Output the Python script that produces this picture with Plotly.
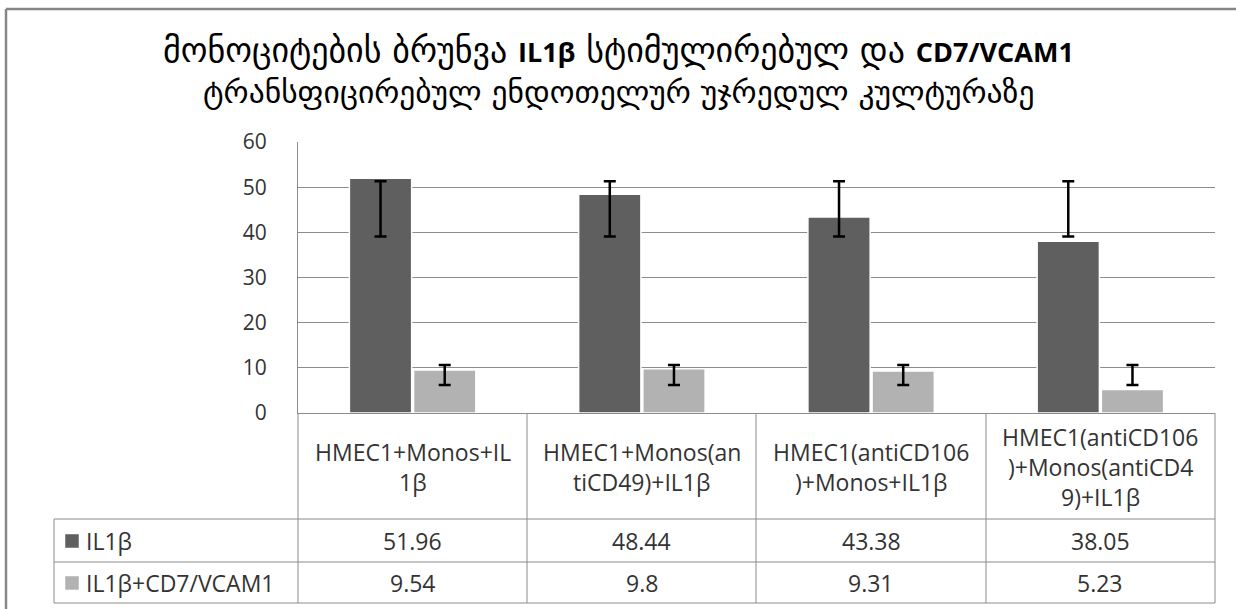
import plotly.graph_objects as go

# values as printed in the data table under the chart
categories = [
    "HMEC1+Monos+IL1β",
    "HMEC1+Monos(antiCD49)+IL1β",
    "HMEC1(antiCD106)+Monos+IL1β",
    "HMEC1(antiCD106)+Monos(antiCD49)+IL1β",
]
# header cells wrap exactly like the Excel table does
header_labels = [
    ["HMEC1+Monos+IL", "1β"],
    ["HMEC1+Monos(an", "tiCD49)+IL1β"],
    ["HMEC1(antiCD106", ")+Monos+IL1β"],
    ["HMEC1(antiCD106", ")+Monos(antiCD4", "9)+IL1β"],
]
series_names = ["IL1β", "IL1β+CD7/VCAM1"]
il1b = [51.96, 48.44, 43.38, 38.05]
il1b_vcam = [9.54, 9.8, 9.31, 5.23]

# the error bars in the picture sit at the same place for every group
il1b_err_lo = [39.1, 39.1, 39.1, 39.1]
il1b_err_hi = [51.3, 51.3, 51.3, 51.3]
vcam_err_lo = [6.2, 6.2, 6.2, 6.2]
vcam_err_hi = [10.6, 10.6, 10.6, 10.6]

LATIN = "<span style='font-family:Open Sans;font-size:27px'><b>{}</b></span>"
title_lines = [
    "მონოციტების ბრუნვა " + LATIN.format("IL1β") + " სტიმულირებულ და " + LATIN.format("CD7/VCAM1"),
    "ტრანსფიცირებულ ენდოთელურ უჯრედულ კულტურაზე",
]
title_sizes = [34, 31.5]

DARK = "#5f5f5f"
LIGHT = "#b2b2b2"
GRID = "#8c8c8c"
TEXT = "#333333"
FONT = "Open Sans, DejaVu Sans, sans-serif"
TITLE_FONT = "DejaVu Sans, Open Sans, sans-serif"

# plot area in pixels (figure is 1236x609)
W, H = 1236, 609
PL, PR, PT, PB = 298, 1215, 142, 413


def fx(p):
    return (p - PL) / (PR - PL)


def fy(p):
    return (PB - p) / (PB - PT)


fig = go.Figure()

for name, vals, color, grp in [(series_names[0], il1b, DARK, "a"),
                               (series_names[1], il1b_vcam, LIGHT, "b")]:
    fig.add_bar(x=categories, y=vals, name=name, offsetgroup=grp,
                marker=dict(color=color, line=dict(color="white", width=1.5)))

# invisible carriers for the error bars, drawn in the same slots as the bars
for lo, hi, grp in [(il1b_err_lo, il1b_err_hi, "a"), (vcam_err_lo, vcam_err_hi, "b")]:
    mid = [(a + b) / 2 for a, b in zip(lo, hi)]
    half = [(b - a) / 2 for a, b in zip(lo, hi)]
    fig.add_bar(x=categories, y=mid, offsetgroup=grp, showlegend=False, hoverinfo="skip",
                marker=dict(color="rgba(0,0,0,0)", line=dict(width=0)),
                error_y=dict(type="data", array=half, color="black", thickness=2.5, width=6))

shapes = []
line = dict(color=GRID, width=1)


def hline(x0, x1, y, ln):
    shapes.append(dict(type="line", xref="paper", yref="paper",
                       x0=fx(x0), x1=fx(x1), y0=fy(y), y1=fy(y), line=ln))


def vline(x, y0, y1, ln):
    shapes.append(dict(type="line", xref="paper", yref="paper",
                       x0=fx(x), x1=fx(x), y0=fy(y0), y1=fy(y1), line=ln))


# keep the strip right of the table blank
shapes.append(dict(type="rect", xref="paper", yref="paper", layer="above",
                   x0=fx(1219), x1=fx(W + 20), y0=fy(12), y1=fy(H + 20),
                   fillcolor="white", line=dict(width=0)))

# data table grid
for xp in [PL, 527, 756, 986, PR]:
    vline(xp, PB, 603, line)
vline(54, 519, 603, line)
for yp in [519, 562, 603]:
    hline(54, PR, yp, line)

# outer chart frame (runs off the right and bottom of the picture)
frame = dict(color="#868686", width=2.5)
hline(6, W, 9, frame)
vline(6, 9, H, frame)

# legend keys in the table
for yc, color in [(541, DARK), (583, LIGHT)]:
    shapes.append(dict(type="rect", xref="paper", yref="paper",
                       x0=fx(65), x1=fx(79), y0=fy(yc - 7), y1=fy(yc + 7),
                       fillcolor=color, line=dict(color="white", width=0.5)))

annotations = []
tfont = dict(family=FONT, size=23, color=TEXT)
for cat, lines in zip(categories, header_labels):
    n = len(lines)
    for i, txt in enumerate(lines):
        yc = 467 + (i - (n - 1) / 2) * 30
        annotations.append(dict(x=cat, xref="x", y=fy(yc), yref="paper", text=txt,
                                showarrow=False, font=tfont, xanchor="center", yanchor="middle"))
for vals, yc in [(il1b, 541), (il1b_vcam, 583)]:
    for cat, v in zip(categories, vals):
        annotations.append(dict(x=cat, xref="x", y=fy(yc), yref="paper", text=f"{v:g}",
                                showarrow=False, font=tfont, xanchor="center", yanchor="middle"))
for name, yc in zip(series_names, [541, 583]):
    annotations.append(dict(x=fx(84), xref="paper", y=fy(yc), yref="paper", text=name,
                            showarrow=False, font=tfont, xanchor="left", yanchor="middle"))
for txt, size, yc in zip(title_lines, title_sizes, [50, 92]):
    annotations.append(dict(x=fx(618), xref="paper", y=fy(yc), yref="paper", text=txt,
                            showarrow=False, xanchor="center", yanchor="middle",
                            font=dict(family=TITLE_FONT, size=size, color="black")))

fig.update_layout(
    width=W, height=H,
    margin=dict(l=PL, r=W - PR, t=PT, b=H - PB),
    plot_bgcolor="white", paper_bgcolor="white",
    barmode="group", bargap=0.44, bargroupgap=0.03,
    showlegend=False,
    shapes=shapes, annotations=annotations,
)
fig.update_xaxes(showticklabels=False, ticks="", showgrid=False,
                 showline=True, linecolor=GRID, linewidth=1)
fig.update_yaxes(range=[0, 60], dtick=10, showgrid=True, gridcolor=GRID, gridwidth=1,
                 zeroline=False, showline=True, linecolor=GRID, linewidth=1,
                 ticks="", ticklabelstandoff=26,
                 tickfont=dict(family=FONT, size=21, color=TEXT))

# drop the browser's default page margin so the figure starts at the window corner
fig.write_html("out.html", config={"displayModeBar": False},
               post_script="document.body.style.margin='0';document.body.style.overflow='hidden';")
